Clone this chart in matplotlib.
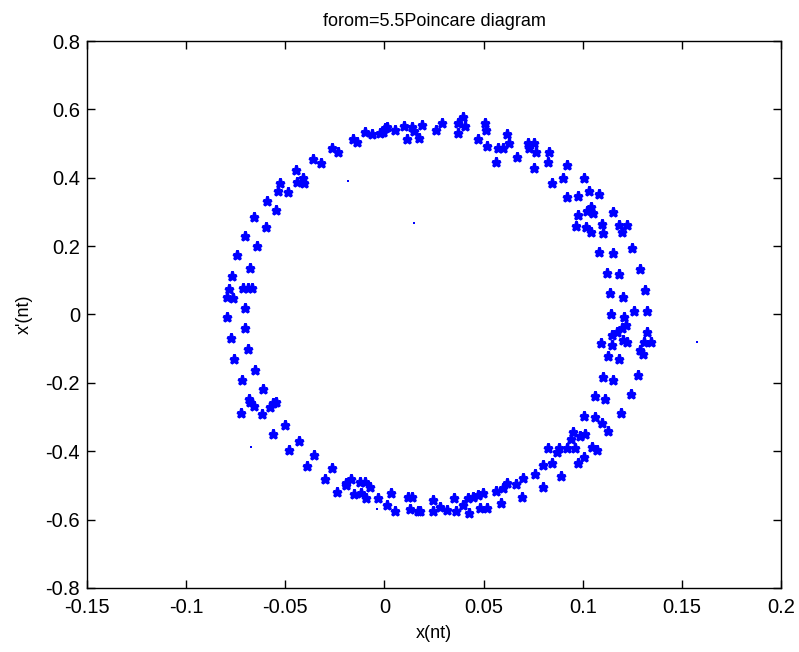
import matplotlib
matplotlib.use("Agg")
import matplotlib.pyplot as plt
import numpy as np

# Poincare section points (x(nt), x'(nt))
x_pts = [
    -0.0098, -0.0064, -0.0022, 0.0003, 0.0053, -0.0157, -0.0137, -0.0263, -0.0236, -0.0359,
    -0.0321, -0.0446, -0.0409, -0.0442, -0.0404, -0.0526, -0.0535, -0.0485, -0.0594, -0.0547,
    -0.0656, -0.0597, -0.0703, -0.0644,
    -0.0006, 0.0012, 0.0099, 0.0138, 0.0151, 0.0188, 0.0112, 0.0176, 0.0259, 0.0292,
    0.0373, 0.0395, 0.0406, 0.0373, 0.0507, 0.0512, 0.0474, 0.0516, 0.0620, 0.0630,
    0.0574, 0.0600, 0.0563, 0.0667, 0.0723, 0.0754, 0.0729, 0.0765, 0.0832, 0.0824,
    0.0756, 0.0919, 0.0902, 0.0847, 0.0919, 0.0978, 0.0978, 0.0966,
    0.1008, 0.1033, 0.1082, 0.1020, 0.1040, 0.1050, 0.1154, 0.1017, 0.1042, 0.1096,
    0.1104, 0.1185, 0.1222, 0.1197, 0.1082, 0.1151, 0.1247, 0.1121, 0.1185, 0.1289,
    0.1138, 0.1202, 0.1314, 0.1143, 0.1210, 0.1259, 0.1326,
    0.1218, 0.1197, 0.1171, 0.1146, 0.1323, 0.1091, 0.1146, 0.1205, 0.1222, 0.1309,
    0.1343, 0.1289, 0.1306, 0.1129, 0.1185, 0.1104, 0.1154, 0.1280, 0.1062, 0.1112,
    0.1242, 0.1007, 0.1062, 0.1096, 0.1192, 0.1129, 0.0950, 0.0986, 0.1012, 0.0940,
    0.0922, 0.0961, 0.1045, 0.1071, 0.1007, 0.0975, 0.0891,
    0.0882, 0.0872, 0.0824, 0.0847, 0.0798, 0.0759, 0.0700, 0.0662, 0.0620, 0.0600,
    0.0563, 0.0801, 0.0499, 0.0474, 0.0448, 0.0420, 0.0692, 0.0353, 0.0244, 0.0398,
    0.0588, 0.0482, 0.0516, 0.0280, 0.0247, 0.0314, 0.0361, 0.0428, 0.0180,
    -0.0678, -0.0658, -0.0563, -0.0577, -0.0723, -0.0619, -0.0501, -0.0560, -0.0429, -0.0480,
    -0.0355, -0.0392, -0.0266, -0.0300, -0.0170, -0.0194, -0.0123, -0.0098, -0.0073, -0.0238,
    -0.0194, -0.0153, -0.0118, -0.0093, -0.0034, 0.0033, 0.0015, 0.0053, 0.0121, 0.0138,
    0.0129, 0.0171,
    -0.0742, -0.0678, -0.0767, -0.0782, -0.0712, -0.0686, -0.0669, -0.0795, -0.0762, -0.0703,
    -0.0792, -0.0703, -0.0775, -0.0686, -0.0758, -0.0653, -0.0720, -0.0614, -0.0681, -0.0547,
]
y_pts = [
    0.5347, 0.5271, 0.5300, 0.5446, 0.5397, 0.5133, 0.5054, 0.4861, 0.4744, 0.4548,
    0.4423, 0.4227, 0.3984, 0.3867, 0.3838, 0.3838, 0.3621, 0.3574, 0.3329, 0.3057,
    0.2861, 0.2551, 0.2305, 0.2004,
    0.5347, 0.5476, 0.5514, 0.5493, 0.5376, 0.5543, 0.5125, 0.5154, 0.5397, 0.5593,
    0.5593, 0.5768, 0.5522, 0.5300, 0.5593, 0.5397, 0.5125, 0.4929, 0.5271, 0.5025,
    0.4879, 0.4879, 0.4469, 0.4616, 0.5025, 0.5025, 0.4861, 0.4744, 0.4744, 0.4469,
    0.4276, 0.4373, 0.3984, 0.3855, 0.3428, 0.3475, 0.2910, 0.2589,
    0.4001, 0.3621, 0.3525, 0.3036, 0.3153, 0.2960, 0.3007, 0.2551, 0.2422, 0.2647,
    0.2393, 0.2618, 0.2618, 0.2422, 0.1837, 0.1790, 0.1936, 0.1223, 0.1176, 0.1322,
    0.0620, 0.0521, 0.0717, 0.0015, -0.0064, 0.0111, 0.0111,
    -0.0307, -0.0404, -0.0521, -0.0600, -0.0503, -0.0825, -0.0892, -0.0746, -0.0813, -0.0796,
    -0.0796, -0.1038, -0.1164, -0.1205, -0.1310, -0.1819, -0.1916, -0.1770, -0.2384, -0.2480,
    -0.2325, -0.2960, -0.2989, -0.3182, -0.2890, -0.3408, -0.3446, -0.3554, -0.3504, -0.3650,
    -0.3914, -0.3914, -0.3884, -0.3963, -0.4159, -0.4352, -0.4724,
    -0.3914, -0.4013, -0.3914, -0.4335, -0.4402, -0.4665, -0.4773, -0.4958, -0.4937, -0.5083,
    -0.5154, -0.5054, -0.5230, -0.5279, -0.5329, -0.5376, -0.5329, -0.5376, -0.5426, -0.5572,
    -0.5522, -0.5669, -0.5669, -0.5622, -0.5748, -0.5718, -0.5739, -0.5797, -0.5748,
    -0.2551, -0.2676, -0.2597, -0.2697, -0.2890, -0.2910, -0.3232, -0.3495, -0.3691, -0.3963,
    -0.4109, -0.4422, -0.4498, -0.4820, -0.4811, -0.4987, -0.4908, -0.4890, -0.5054, -0.5183,
    -0.4930, -0.5250, -0.5230, -0.5376, -0.5376, -0.5230, -0.5572, -0.5748, -0.5329, -0.5329,
    -0.5697, -0.5748,
    0.1740, 0.1369, 0.1135, 0.0737, 0.0766, 0.0784, 0.0766, 0.0521, 0.0474, 0.0181,
    -0.0082, -0.0404, -0.0696, -0.1018, -0.1302, -0.1623, -0.1916, -0.2188, -0.2471, -0.2568,
]

# a few isolated tiny dots (transient)
x_tiny = [-0.0182, 0.0151, -0.0673, -0.0036, 0.1577]
y_tiny = [0.3914, 0.2685, -0.3884, -0.5689, -0.0804]

plt.rcParams['font.family'] = ['Liberation Sans', 'DejaVu Sans']

fig = plt.figure(figsize=(7.99, 6.52), dpi=100)
ax = fig.add_axes([0.1089, 0.0982, 0.8686, 0.8389])

ax.plot(x_pts, y_pts, linestyle='none', marker='*', ms=6.5, mew=2, color='#0000ff')
ax.plot(x_tiny, y_tiny, linestyle='none', marker='s', ms=1.5, mew=0, color='#0000ff')

ax.set_xlim(-0.15, 0.2)
ax.set_ylim(-0.8, 0.8)
ax.set_xticks(np.arange(-0.15, 0.2001, 0.05))
ax.set_xticklabels(['-0.15', '-0.1', '-0.05', '0', '0.05', '0.1', '0.15', '0.2'])
ax.set_yticks(np.arange(-0.8, 0.8001, 0.2))
ax.set_yticklabels(['-0.8', '-0.6', '-0.4', '-0.2', '0', '0.2', '0.4', '0.6', '0.8'])
ax.tick_params(direction='in', length=6, width=1, top=True, right=True, labelsize=14.5)
ax.tick_params(axis='x', pad=7)
ax.tick_params(axis='y', pad=5)
for s in ax.spines.values():
    s.set_linewidth(1)

ax.set_title('forom=5.5Poincare diagram', fontsize=13, pad=11)
ax.set_xlabel('x(nt)', fontsize=13, labelpad=6)
ax.set_ylabel("x'(nt)", fontsize=13, labelpad=9)

fig.savefig('out.png', dpi=100)
